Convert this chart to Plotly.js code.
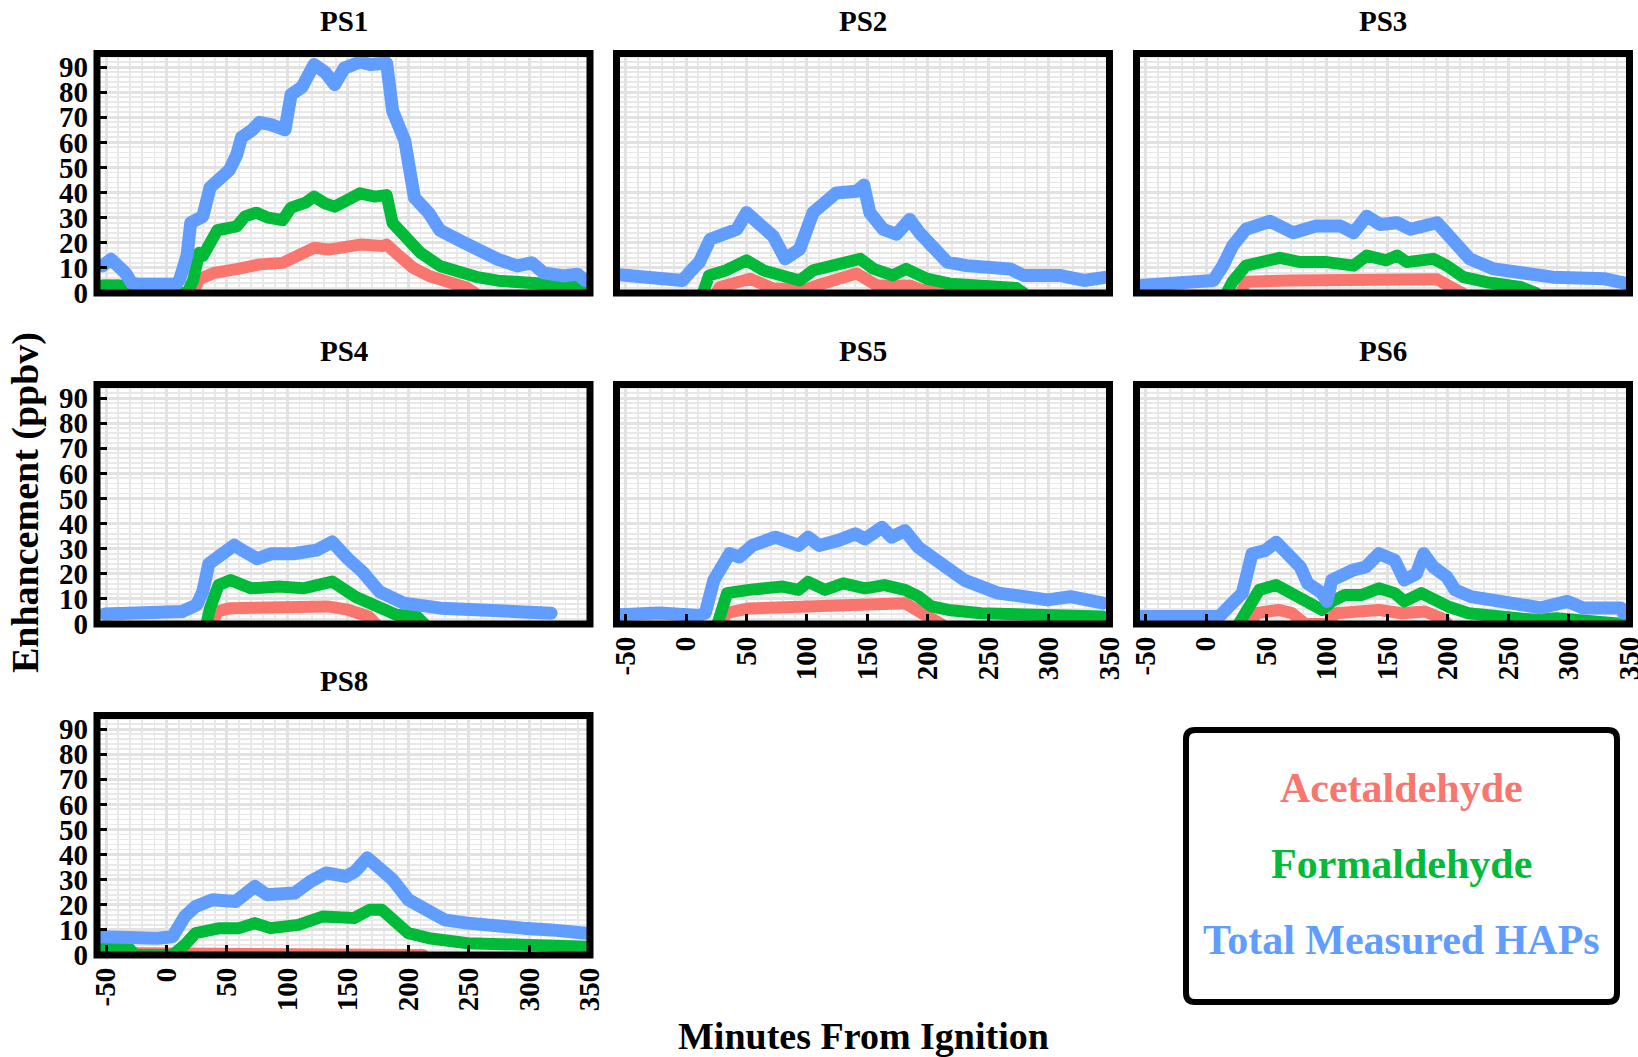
<!DOCTYPE html>
<html><head><meta charset="utf-8">
<script src="https://cdn.plot.ly/plotly-3.0.1.min.js"></script>
<style>
html,body{margin:0;padding:0;background:#fff;}
#chart{width:1638px;height:1057px;}
.js-line{stroke-linejoin:round;stroke-linecap:round;}
</style></head><body><div id="chart"></div>
<script>
// ---------- DATA (minutes from ignition, enhancement in ppbv) ----------
const panelNames = ['PS1','PS2','PS3','PS4','PS5','PS6','PS8'];
const seriesNames = ['Acetaldehyde','Formaldehyde','Total Measured HAPs'];
const xTicks = [-50,0,50,100,150,200,250,300,350];
const yTicks = [0,10,20,30,40,50,60,70,80,90];

// PS1
const ps1AcetT = [-53,-40,-37,22,27,39,58,77,96,109,122,134,147,160,179,182,191,204,217,236,248,255];
const ps1AcetV = [3,3,0,0,5.5,8,9.5,11.4,12,15.4,18,17.3,18.7,19.3,18.7,19.3,15.4,10,6.8,4.2,2.2,0];
const ps1FormT = [-53,-38,-35,17,22,27,30,36,42,58,65,74,84,96,103,115,122,131,139,147,160,172,182,187,198,210,226,242,258,274,305,318,346];
const ps1FormV = [3,3,0,0,5,16,14.7,21,25,26.5,30.5,32,30,29,34,36,38.4,35.7,34.4,36.4,39.7,38.4,39,27.8,22.6,16,10.8,8.1,6.2,4.9,4.2,2.9,2.6];
const ps1TotT = [-53,-46,-34,-29,-24,8,11,17,20,30,36,52,58,62,71,77,87,98,103,112,122,131,139,147,160,169,182,187,197,205,217,226,242,258,274,290,302,312,328,340,346];
const ps1TotV = [10.8,13.4,8,4,3.5,3.5,5.5,15,28,30.5,42,49,55,62,65,68,67,65,79,82,91,88,83,89.6,92,91,91.6,72.5,60.7,38,31.8,25,21,17,13.4,10.8,12,8,6.8,7.5,5];

// PS2
const ps2AcetT = [25,28,53,72,100,108,141,158,185,196,204,260,268];
const ps2AcetV = [0,2.4,5.7,1.8,1.5,3,7.8,3,3,1,2,2,0];
const ps2FormT = [14,19,33,50,64,83,94,105,122,144,155,171,182,199,218,246,273,279];
const ps2FormV = [0,7,9,13,9,5.7,5,9,11,13.6,9.6,7,9.6,5.7,3.7,3,2,0];
const ps2TotT = [-55,-3,3,11,20,31,42,50,61,72,82,94,105,124,141,147,152,163,174,185,193,204,216,232,249,268,279,309,329,348];
const ps2TotV = [7.3,5,8.3,12.3,21.4,24,25.4,32,28,22.7,13.6,17.5,32,39.8,40.5,43,32,25.4,23.4,29.3,24,18.8,12.3,10.9,10.3,9.6,7,7,5,6.3];

// PS3
const ps3AcetT = [29,33,70,120,133,180,191,204,212];
const ps3AcetV = [0,4.5,5,5,5.5,5.5,5.5,2,0];
const ps3FormT = [17,22,33,50,61,78,100,122,133,149,158,166,188,199,213,232,260,273];
const ps3FormV = [0,4.5,10.9,12.3,14,12.3,12.3,10.9,14.9,13,14.9,12.3,13.6,10.9,6.3,4.3,2.4,0];
const ps3TotT = [-55,-11,6,14,22,33,44,53,72,91,111,122,133,144,158,169,191,204,218,238,260,287,329,348];
const ps3TotV = [3,3.7,5,10.9,18.8,25.4,26.7,28.6,24,26.7,26.7,24,30.6,27.3,28,25.4,28,21.4,13.6,9.6,7.7,6.3,5.7,3.7];

// PS4
const ps4AcetT = [38,42,53,99,133,150,167,173];
const ps4AcetV = [0,5,6.3,6.3,7,5.7,3,0];
const ps4FormT = [33,36,43,53,70,93,113,137,156,173,190,207,213];
const ps4FormV = [0,6.3,15.5,17.5,14.2,14.9,14.2,16.9,10.9,7,3.7,3,0];
const ps4TotT = [-51,13,25,30,35,42,56,65,75,87,105,124,137,150,162,176,196,227,270,315,318];
const ps4TotV = [4,5,7.6,12.9,24,26.7,31.4,28.7,26,28,28,29.4,32.7,26,20.8,12.9,8.3,6.3,5,4.3,4.3];

// PS5
const ps5AcetT = [30,33,52,93,134,162,181,195,206,211];
const ps5AcetV = [0,4.3,6.2,7,7,8.3,8.3,4.3,1.6,0];
const ps5FormT = [26,31,34,52,80,93,101,115,130,148,164,181,192,203,217,244,285,345];
const ps5FormV = [0,9.6,12.3,13.6,14.9,13.6,16.8,13.6,16.2,14.2,15.5,13.6,11,7,5.6,4.3,3.7,3];
const ps5TotT = [-55,-22,11,16,23,30,36,44,55,74,93,101,110,126,140,148,162,170,181,192,203,217,230,244,258,280,299,318,345];
const ps5TotV = [3.7,4.4,3.4,4.4,17.5,22.7,28,26.7,31.3,34.6,31.3,34.6,31.3,33.3,35.9,33.9,38.5,34.6,37.2,30.6,26.7,21.4,17.5,14.9,12.3,10.9,9.6,10.9,8.3];

// PS6
const ps6AcetT = [38,41,60,71,82,101,107,143,162,181,195,200];
const ps6AcetV = [0,4.3,5.6,4.3,0,0,4.3,5.6,4.3,5,2.3,0];
const ps6FormT = [27,33,44,58,71,82,96,104,115,129,143,156,164,178,189,200,217,258,271,290,345];
const ps6FormV = [0,4.3,13.6,15.5,12.3,8.3,5.6,9,11.6,11.6,14.2,12.3,9,12.3,9.6,7,4.3,3,1.7,2.3,0];
const ps6TotT = [-55,-16,11,19,30,38,49,58,69,78,84,96,100,104,121,132,143,156,164,174,180,188,199,206,219,241,258,277,299,312,343,345];
const ps6TotV = [3,3.2,3,7,12.3,28,29.3,32.6,26.7,22.7,16.2,12.3,9,17.5,21.4,22.7,28,25.4,17.5,20,28,22.7,18.8,13.6,10.9,9.6,8.3,6.4,9,6.4,6.4,4.4];

// PS8
const ps8AcetT = [-54,-38,-36,22,25,208,212];
const ps8AcetV = [0.8,0.8,0,0,0.8,0.8,0];
const ps8FormT = [-54,-31,-26,5,15,24,44,60,73,86,109,129,155,168,178,187,200,217,249,301,347];
const ps8FormV = [2.7,2.7,0,0,4,8.7,10.7,10.7,12.7,10.7,12,15.3,14.7,18,18,14,8.7,6.7,4.7,4,3.3];
const ps8TotT = [-54,-31,-8,5,15,24,38,57,73,83,106,119,132,148,156,166,174,187,200,213,230,249,269,295,318,347];
const ps8TotV = [7.3,6.7,6.7,7.3,15.3,19.3,22,21.3,27.3,24,24.7,29.3,32.7,31.3,33.3,38.7,35.3,30,22,18,14,12.7,11.3,10.7,10,8.7];

// ---------- LAYOUT ----------
const W = 1638, H = 1057;
const FONT = '"Liberation Serif", "Times New Roman", serif';
const seriesColors = ['#F8766D','#00BA38','#619CFF'];
const seriesWidths = [12,12,13];

const colPx = [[97,590],[616.5,1109.5],[1136.5,1629.5]];
const rowPx = [[53.5,293],[384.5,624],[715.5,955]];
const titleY = [21,351,681];

const panels = [
  {col:0,row:0,ylab:true, xlab:false,s:[[ps1AcetT,ps1AcetV],[ps1FormT,ps1FormV],[ps1TotT,ps1TotV]]},
  {col:1,row:0,ylab:false,xlab:false,s:[[ps2AcetT,ps2AcetV],[ps2FormT,ps2FormV],[ps2TotT,ps2TotV]]},
  {col:2,row:0,ylab:false,xlab:false,s:[[ps3AcetT,ps3AcetV],[ps3FormT,ps3FormV],[ps3TotT,ps3TotV]]},
  {col:0,row:1,ylab:true, xlab:false,s:[[ps4AcetT,ps4AcetV],[ps4FormT,ps4FormV],[ps4TotT,ps4TotV]]},
  {col:1,row:1,ylab:false,xlab:true, s:[[ps5AcetT,ps5AcetV],[ps5FormT,ps5FormV],[ps5TotT,ps5TotV]]},
  {col:2,row:1,ylab:false,xlab:true, s:[[ps6AcetT,ps6AcetV],[ps6FormT,ps6FormV],[ps6TotT,ps6TotV]]},
  {col:0,row:2,ylab:true, xlab:true, s:[[ps8AcetT,ps8AcetV],[ps8FormT,ps8FormV],[ps8TotT,ps8TotV]]}
];

const gridCol = '#e2e2e2', minorCol = '#e8e8e8';
const tickFont = {family:FONT,size:29,color:'#000',weight:700};

const data = [];
const layout = {
  width:W,height:H,margin:{l:0,r:0,t:0,b:0},
  paper_bgcolor:'#fff',plot_bgcolor:'#fff',
  showlegend:false,shapes:[],annotations:[],
  font:{family:FONT,color:'#000'}
};

panels.forEach((p,i)=>{
  const n = i+1, sx = n===1?'':String(n);
  const xd = [colPx[p.col][0]/W, colPx[p.col][1]/W];
  const yd = [1-rowPx[p.row][1]/H, 1-rowPx[p.row][0]/H];
  layout['xaxis'+sx] = {
    domain:xd, anchor:'y'+sx, range:[-57.5,350.2],
    tickmode:'array', tickvals:xTicks, ticktext:xTicks.map(String),
    showgrid:true, gridcolor:gridCol, gridwidth:3,
    minor:{dtick:10,tick0:0,showgrid:true,gridcolor:minorCol,gridwidth:1.8},
    zeroline:false, showline:false,
    ticks:p.xlab?'inside':'', ticklen:10, tickwidth:3, tickcolor:'#000',
    showticklabels:p.xlab, tickangle:-90, tickfont:tickFont, ticklabelstandoff:6,
    ticklabeloverflow:'allow',
    fixedrange:true
  };
  layout['yaxis'+sx] = {
    domain:yd, anchor:'x'+sx, range:[0,95.4],
    tickmode:'array', tickvals:yTicks, ticktext:yTicks.map(String),
    showgrid:true, gridcolor:gridCol, gridwidth:3,
    minor:{dtick:2,tick0:0,showgrid:true,gridcolor:minorCol,gridwidth:1.8},
    zeroline:false, showline:false,
    ticks:p.ylab?'inside':'', ticklen:10, tickwidth:3, tickcolor:'#000',
    showticklabels:p.ylab, tickfont:tickFont, ticklabelstandoff:8,
    ticklabeloverflow:'allow',
    fixedrange:true
  };
  p.s.forEach((s,k)=>{
    data.push({
      type:'scatter', mode:'lines', x:s[0], y:s[1],
      xaxis:'x'+sx, yaxis:'y'+sx, name:seriesNames[k],
      line:{color:seriesColors[k], width:seriesWidths[k]},
      hoverinfo:'skip', showlegend:false
    });
  });
  layout.shapes.push({type:'rect', xref:'x'+sx+' domain', yref:'y'+sx+' domain',
    x0:0,x1:1,y0:0,y1:1, line:{color:'#000',width:7}, layer:'above'});
  layout.annotations.push({text:panelNames[i], xref:'paper', yref:'paper',
    x:(xd[0]+xd[1])/2, y:1-titleY[p.row]/H, xanchor:'center', yanchor:'middle',
    showarrow:false, font:{family:FONT,size:29,color:'#000',weight:700}});
});

// axis titles
layout.annotations.push({text:'Minutes From Ignition', xref:'paper', yref:'paper',
  x:863/W, y:1-1036/H, xanchor:'center', yanchor:'middle', showarrow:false,
  font:{family:FONT,size:38,color:'#000',weight:700}});
layout.annotations.push({text:'Enhancement (ppbv)', xref:'paper', yref:'paper',
  x:25/W, y:1-503/H, xanchor:'center', yanchor:'middle', showarrow:false, textangle:-90,
  font:{family:FONT,size:38,color:'#000',weight:700}});

// legend box (rounded rectangle) and coloured labels
(function(){
  const x0=1186/W, x1=1617/W, y0=1-1002/H, y1=1-730/H, rx=9/W, ry=9/H;
  const path = `M ${x0+rx},${y1} L ${x1-rx},${y1} Q ${x1},${y1} ${x1},${y1-ry} L ${x1},${y0+ry} Q ${x1},${y0} ${x1-rx},${y0} L ${x0+rx},${y0} Q ${x0},${y0} ${x0},${y0+ry} L ${x0},${y1-ry} Q ${x0},${y1} ${x0+rx},${y1} Z`;
  layout.shapes.push({type:'path', xref:'paper', yref:'paper', path:path,
    line:{color:'#000',width:6}, fillcolor:'rgba(0,0,0,0)', layer:'above'});
  const ys=[788,864,940];
  seriesNames.forEach((nm,k)=>{
    layout.annotations.push({text:nm, xref:'paper', yref:'paper',
      x:1401/W, y:1-ys[k]/H, xanchor:'center', yanchor:'middle', showarrow:false,
      font:{family:FONT,size:42,color:seriesColors[k],weight:700}});
  });
})();

Plotly.newPlot('chart', data, layout, {displayModeBar:false, staticPlot:true});
</script></body></html>
